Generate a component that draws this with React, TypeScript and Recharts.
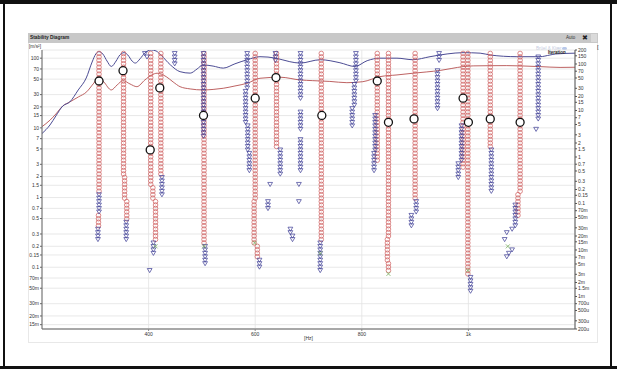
import React from 'react';
import { ComposedChart, Line, Scatter, XAxis, YAxis, CartesianGrid } from 'recharts';

// ---------- data ----------
const freqTicks = [400, 600, 800, 1000];
const ampTicks = [100, 70, 50, 30, 20, 15, 10, 7, 5, 3, 2, 1.5, 1, 0.7, 0.5, 0.3, 0.2, 0.15, 0.1, 0.07, 0.05, 0.03, 0.02, 0.015];
const rightLogTicks = [200, 150, 100, 70, 50, 30, 20, 15, 10, 7, 5, 3, 2, 1.5, 1, 0.7, 0.5, 0.3, 0.2, 0.15, 0.1, 0.07, 0.05, 0.03, 0.02, 0.015, 0.01, 0.007, 0.005, 0.003, 0.002, 0.0015, 0.001, 0.0007, 0.0005, 0.0003, 0.0002];
const orderTicks = [5, 10, 15, 20, 25, 30, 35, 40, 45, 50, 55, 60, 65, 70, 75];

// blue spectrum curve [Hz, m/s²]
const blueFreq = [200, 215, 226, 239, 252, 268, 283, 294, 301, 307, 314, 322, 330, 339, 346, 354, 361, 369, 375, 384, 393, 405, 414, 423, 441, 459, 478, 491, 502, 521, 540, 562, 585, 609, 639, 665, 684, 722, 759, 787, 810, 834, 866, 896, 928, 960, 990, 1022, 1041, 1091, 1134, 1153, 1164, 1200];
const blueAmp = [8.3, 11, 14.8, 20.6, 23.5, 35, 52, 88, 115, 124, 115, 91, 76, 91, 111, 120, 111, 91, 85, 98, 119, 131, 127, 111, 80, 64, 61, 70, 80, 77, 72, 83, 95, 105, 100, 89, 85, 95, 86, 76, 92, 100, 100, 95, 105, 115, 120, 118, 111, 105, 105, 111, 115, 118];

// red spectrum curve [Hz, m/s²]
const redFreq = [200, 215, 226, 239, 252, 268, 284, 296, 307, 316, 330, 341, 352, 365, 378, 393, 406, 416, 433, 446, 459, 478, 502, 521, 540, 562, 585, 609, 647, 684, 708, 740, 772, 802, 834, 866, 896, 922, 947, 969, 990, 1009, 1041, 1072, 1097, 1134, 1172, 1200];
const redAmp = [10.4, 12.9, 15.8, 20.6, 23.5, 27.7, 33, 42.7, 53, 45.6, 35, 41.3, 47.6, 42.7, 39, 48.7, 57.5, 60.8, 54.3, 45.6, 39, 36.2, 35, 35.6, 37, 39.9, 43.7, 51.5, 53.3, 48.7, 47.6, 46.4, 44.5, 46, 54.3, 57.5, 60.8, 63.5, 66.7, 71.3, 75.7, 77.5, 78, 78.2, 77.5, 75.7, 73.7, 74.1];

// stable poles (red circles): [frequency Hz, highest model order, lowest model order]
const stableRuns = [
  [307, 80, 40], [306, 33, 30],
  [353, 80, 45], [355, 44, 38], [359, 37, 32],
  [404, 80, 42], [408, 41, 38], [413, 37, 26],
  [423, 80, 45],
  [504, 80, 25],
  [600, 80, 38], [598, 37, 25], [604, 24, 21],
  [640, 80, 53],
  [724, 80, 26],
  [829, 80, 49],
  [850, 80, 27], [848, 26, 20], [850, 19, 17],
  [900, 80, 38],
  [990, 80, 47],
  [999, 80, 16],
  [1041, 80, 53],
  [1097, 80, 40], [1093, 39, 33],
];

// unstable poles (blue triangles): [frequency Hz, highest model order, lowest model order]
const unstableRuns = [
  [307, 39, 34], [305, 29, 26],
  [358, 31, 26],
  [393, 80, 80], [397, 79, 79], [409, 25, 22], [402, 17, 17],
  [425, 44, 39],
  [503, 80, 56], [506, 24, 19],
  [449, 80, 77],
  [585, 80, 70], [582, 69, 60], [586, 59, 52], [589, 51, 46],
  [608, 20, 18],
  [628, 42, 42], [624, 37, 35], [666, 29, 28], [670, 27, 26], [682, 42, 42], [682, 37, 37],
  [638, 80, 78], [647, 52, 45],
  [685, 80, 67], [685, 63, 58], [685, 55, 46],
  [722, 25, 17],
  [789, 80, 72], [786, 71, 65], [782, 64, 59],
  [825, 62, 52], [823, 51, 46],
  [902, 37, 34], [893, 33, 30],
  [945, 80, 78], [942, 75, 64],
  [987, 59, 49], [981, 48, 44],
  [1004, 15, 11],
  [1043, 52, 40],
  [1088, 36, 30], [1082, 29, 29], [1072, 28, 28], [1068, 26, 26], [1082, 23, 23], [1076, 22, 22], [1072, 21, 21],
  [1131, 79, 61], [1127, 58, 58],
];

// other poles (green crosses): [frequency Hz, model order]
const crossPoles = [[413, 24], [504, 24], [599, 25], [722, 22], [850, 16], [999, 17], [1074, 24]];

// selected modes (black circles): [frequency Hz, model order]
const selectedModes = [[307, 72], [352, 75], [403, 52], [421, 70], [503, 62], [600, 67], [639, 73], [725, 62], [829, 72], [850, 60], [898, 61], [990, 67], [1000, 60], [1041, 61], [1097, 60]];

// ---------- derived tables ----------
const blueData = blueFreq.map((f, i) => ({ f, v: blueAmp[i] }));
const redData = redFreq.map((f, i) => ({ f, v: redAmp[i] }));
const expandRuns = (runs: number[][]) => {
  const pts: { f: number; o: number }[] = [];
  runs.forEach(([f, top, bottom]) => {
    for (let o = top; o >= bottom; o--) pts.push({ f, o });
  });
  return pts;
};
const stablePts = expandRuns(stableRuns);
const unstablePts = expandRuns(unstableRuns);
const crossPts = crossPoles.map(([f, o]) => ({ f, o }));
const modePts = selectedModes.map(([f, o]) => ({ f, o }));

const fmtSI = (v: number) => {
  if (v >= 0.1) return String(Math.round(v * 100) / 100);
  if (v >= 0.001) return String(Math.round(v * 1e4) / 10) + 'm';
  return String(Math.round(v * 1e6)) + 'u';
};

// ---------- shapes ----------
const CircleShape = (p: any) => (
  <circle cx={p.cx} cy={p.cy} r={2.3} fill="none" stroke="#d06464" strokeWidth={0.75} />
);
const TriShape = (p: any) => (
  <path
    d={`M${p.cx - 2.4},${p.cy - 1.9}L${p.cx + 2.4},${p.cy - 1.9}L${p.cx},${p.cy + 2.2}Z`}
    fill="none"
    stroke="#45459a"
    strokeWidth={0.75}
  />
);
const CrossShape = (p: any) => (
  <path d={`M${p.cx - 2},${p.cy - 2}L${p.cx + 2},${p.cy + 2}M${p.cx + 2},${p.cy - 2}L${p.cx - 2},${p.cy + 2}`} stroke="#7ab060" strokeWidth={0.8} />
);
const ModeShape = (p: any) => (
  <circle cx={p.cx} cy={p.cy} r={4} fill="#fff" stroke="#111" strokeWidth={1.3} />
);

const FONT = "'Liberation Sans', Arial, sans-serif";
const tickStyle = { fontSize: 5, fill: '#333', fontFamily: FONT };

const abs = (s: React.CSSProperties): React.CSSProperties => ({ position: 'absolute', ...s });

export default function App() {
  return (
    <div style={abs({ left: 0, top: 0, width: 617, height: 369, background: '#fff', overflow: 'hidden', fontFamily: FONT })}>
      {/* panel */}
      <div style={abs({ left: 28, top: 33, width: 570, height: 310, border: '1px solid #e8e8e8', boxSizing: 'border-box' })} />
      <div style={abs({ left: 28, top: 33, width: 570, height: 10, background: '#c8c8c8' })} />
      <div style={abs({ left: 30, top: 34.5, fontSize: 4.8, fontWeight: 'bold', color: '#222', lineHeight: '6px', whiteSpace: 'nowrap' })}>Stability Diagram</div>
      <div style={abs({ left: 566, top: 35, fontSize: 4.5, color: '#333', lineHeight: '6px' })}>Auto</div>
      <div style={abs({ left: 582, top: 33.5, fontSize: 7, fontWeight: 'bold', color: '#222', lineHeight: '9px', fontFamily: 'DejaVu Sans' })}>✖</div>
      <div style={abs({ left: 591, top: 34, width: 6, height: 8, background: '#dadada' })} />
      <div style={abs({ left: 536, top: 45.5, fontSize: 4.5, color: '#c4cbe0', lineHeight: '6px', whiteSpace: 'nowrap' })}>Brüel &amp; Kjær</div>
      <div style={abs({ left: 562, top: 46.5, width: 5, height: 3, borderRadius: 3, background: '#b8c8ea' })} />
      <div style={abs({ left: 29, top: 44, fontSize: 4.8, color: '#333', lineHeight: '6px', whiteSpace: 'nowrap' })}>[m/s²]</div>
      <div style={abs({ left: 597, top: 44, fontSize: 6, color: '#333', lineHeight: '7px' })}>[</div>

      <div style={abs({ left: 0, top: 0 })}>
        <ComposedChart width={617} height={369} margin={{ top: 50, left: 28, right: 20, bottom: 26 }}>
          <CartesianGrid yAxisId="amp" stroke="#e2e2e2" strokeWidth={0.8} />
          <XAxis
            dataKey="f"
            type="number"
            domain={[200, 1200]}
            allowDataOverflow
            ticks={freqTicks}
            interval={0}
            tickFormatter={(v: number) => (v === 1000 ? '1k' : String(v))}
            height={14}
            tickSize={2}
            tickMargin={1}
            tick={tickStyle}
            axisLine={{ stroke: '#a8a8a8', strokeWidth: 2 }}
            tickLine={{ stroke: '#888' }}
            label={{ value: '[Hz]', position: 'insideBottom', offset: 3, fontSize: 5, fill: '#333', fontFamily: FONT }}
          />
          <YAxis
            yAxisId="amp"
            orientation="left"
            type="number"
            scale="log"
            domain={[0.013, 131]}
            allowDataOverflow
            ticks={ampTicks}
            interval={0}
            tickFormatter={fmtSI}
            width={14}
            tickSize={2}
            tickMargin={1}
            tick={tickStyle}
            axisLine={{ stroke: '#666' }}
            tickLine={{ stroke: '#666' }}
          />
          <YAxis
            yAxisId="order"
            orientation="right"
            type="number"
            dataKey="o"
            domain={[0, 81]}
            allowDataOverflow
            ticks={orderTicks}
            interval={0}
            mirror
            width={0}
            tickSize={3}
            tickMargin={1}
            tick={tickStyle}
            axisLine={{ stroke: '#555' }}
            tickLine={{ stroke: '#555' }}
          />
          <YAxis
            yAxisId="rlog"
            orientation="right"
            type="number"
            scale="log"
            domain={[0.0002, 200]}
            allowDataOverflow
            ticks={rightLogTicks}
            interval={0}
            tickFormatter={fmtSI}
            width={22}
            tickSize={2}
            tickMargin={1}
            tick={tickStyle}
            axisLine={{ stroke: '#555' }}
            tickLine={{ stroke: '#555' }}
          />
          <Line yAxisId="amp" data={redData} dataKey="v" type="monotone" stroke="#b55050" strokeWidth={0.9} dot={false} isAnimationActive={false} />
          <Line yAxisId="amp" data={blueData} dataKey="v" type="monotone" stroke="#4c4c94" strokeWidth={1} dot={false} isAnimationActive={false} />
          <Scatter yAxisId="order" data={stablePts} dataKey="o" shape={CircleShape} isAnimationActive={false} />
          <Scatter yAxisId="order" data={unstablePts} dataKey="o" shape={TriShape} isAnimationActive={false} />
          <Scatter yAxisId="order" data={crossPts} dataKey="o" shape={CrossShape} isAnimationActive={false} />
          <Scatter yAxisId="order" data={modePts} dataKey="o" shape={ModeShape} isAnimationActive={false} />
        </ComposedChart>
      </div>

      <div style={abs({ left: 548, top: 49.5, fontSize: 4.5, fontWeight: 'bold', color: '#222', lineHeight: '6px' })}>Iteration</div>

      {/* black frame */}
      <div style={abs({ left: 0, top: 0, width: 617, height: 4, background: '#111' })} />
      <div style={abs({ left: 3, top: 0, width: 2, height: 369, background: '#111' })} />
      <div style={abs({ left: 610, top: 0, width: 2, height: 369, background: '#111' })} />
      <div style={abs({ left: 0, top: 366, width: 617, height: 3, background: '#111' })} />
    </div>
  );
}
